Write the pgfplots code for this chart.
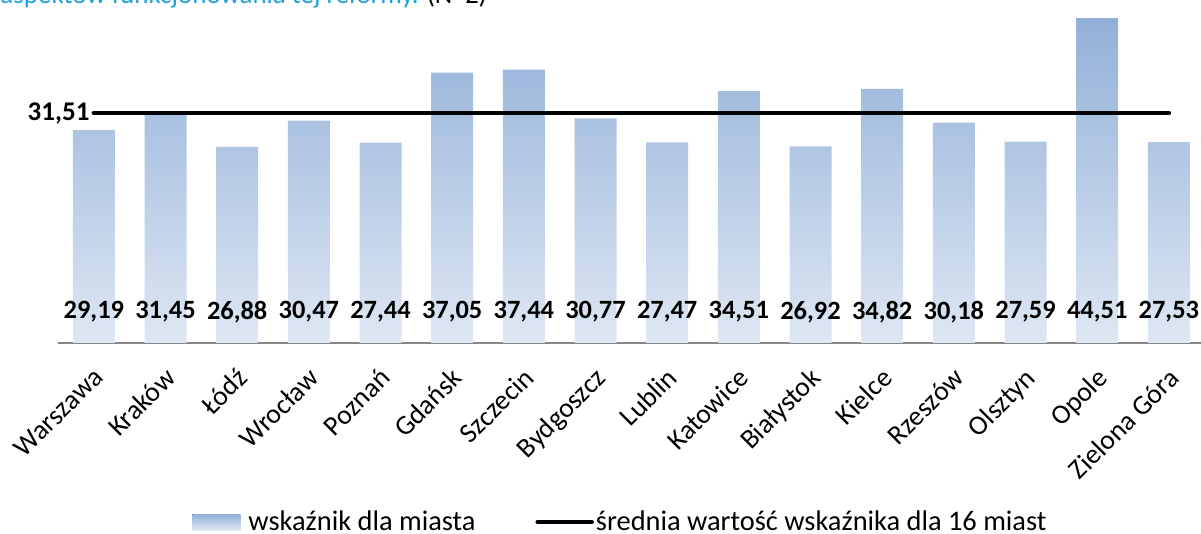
\documentclass[border=0pt]{standalone}
\usepackage{pgfplots}
\pgfplotsset{compat=1.18}
\usepackage{fontspec}
\setmainfont{Carlito}
\definecolor{barTop}{RGB}{146,176,216}
\definecolor{barBot}{RGB}{222,231,243}
\definecolor{titleBlue}{RGB}{30,160,225}
\definecolor{axisGray}{RGB}{134,134,134}
\begin{document}
\begin{tikzpicture}
\useasboundingbox (0pt,0pt) rectangle (600.5pt,267pt);
\node[anchor=base west, inner sep=0pt, font=\fontsize{13.5}{15}\selectfont] at (0pt,265.3pt) {\textcolor{titleBlue}{aspektów funkcjonowania tej reformy.} (N=Z)};
\begin{axis}[
  at={(29pt,95.5pt)}, anchor=south west,
  scale only axis, width=573.35pt, height=164.25pt,
  xmin=-0.5, xmax=15.5, ymin=0, ymax=45,
  axis x line*=bottom, axis y line=none,
  axis line style={axisGray, line width=1pt},
  ytick=\empty,
  xtick={0,...,15},
  xticklabels={Warszawa,Kraków,Łódź,Wrocław,Poznań,Gdańsk,Szczecin,Bydgoszcz,Lublin,Katowice,Białystok,Kielce,Rzeszów,Olsztyn,Opole,Zielona Góra},
  major tick length=0pt,
  xticklabel style={xshift=-1pt, yshift=-10pt, rotate=45, anchor=north east, font=\fontsize{13.8}{15}\selectfont, inner sep=1pt},
  clip=false,
  legend columns=2,
  legend style={at={(0.4905,-0.545)}, anchor=center, draw=none, fill=none,
    font=\fontsize{14.2}{16}\selectfont, nodes={inner sep=1pt},
    /tikz/every even column/.append style={column sep=29pt}},
]
\addplot[ybar, bar width=21pt, draw=none, top color=barTop, bottom color=barBot,
  legend image code/.code={\fill[top color=barTop, bottom color=barBot] (0pt,-4pt) rectangle (24pt,4pt); \path (0pt,0pt) -- (27pt,0pt);}]
  coordinates {(0,29.19) (1,31.45) (2,26.88) (3,30.47) (4,27.44) (5,37.05) (6,37.44) (7,30.77) (8,27.47) (9,34.51) (10,26.92) (11,34.82) (12,30.18) (13,27.59) (14,44.51) (15,27.53)};
\addlegendentry{wskaźnik dla miasta}
\addplot[black, line width=2.25pt, line cap=round,
  legend image code/.code={\draw[line width=2.25pt, line cap=round] (0pt,0pt) -- (27pt,0pt);}]
  coordinates {(0,31.51) (15,31.51)};
\addlegendentry{średnia wartość wskaźnika dla 16 miast}
\addplot[draw=none, mark=none, forget plot, nodes near coords, point meta=explicit symbolic,
  nodes near coords style={anchor=center, inner sep=0pt, font=\bfseries\fontsize{13.2}{15}\selectfont}]
  table[meta=lab] {
x y lab
0 4.25 29,19
1 4.25 31,45
2 4.25 26,88
3 4.25 30,47
4 4.25 27,44
5 4.25 37,05
6 4.25 37,44
7 4.25 30,77
8 4.25 27,47
9 4.25 34,51
10 4.25 26,92
11 4.25 34,82
12 4.25 30,18
13 4.25 27,59
14 4.25 44,51
15 4.25 27,53
};
\node[anchor=east, inner sep=0pt, xshift=-2pt, font=\bfseries\fontsize{13.5}{15}\selectfont] at (axis cs:0,31.51) {31,51};
\end{axis}
\end{tikzpicture}
\end{document}
